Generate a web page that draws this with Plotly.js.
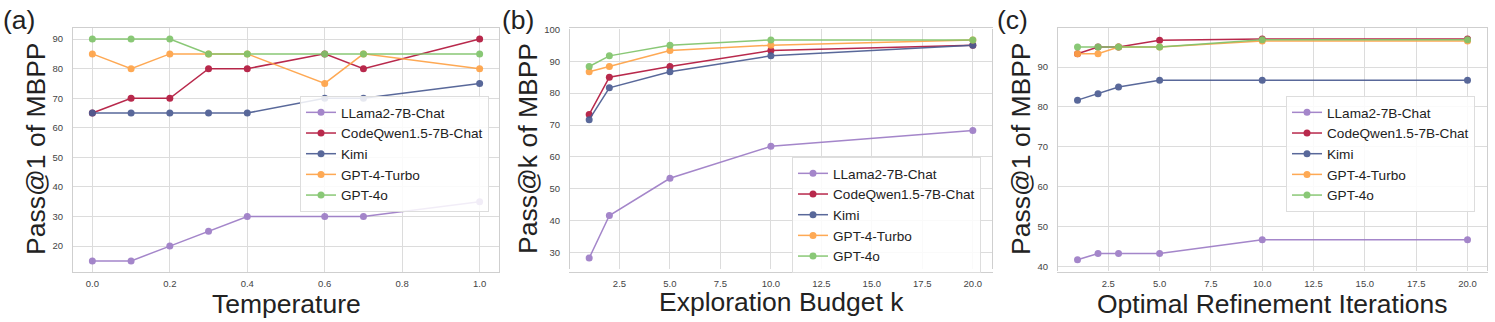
<!DOCTYPE html>
<html>
<head>
<meta charset="utf-8">
<script src="https://cdn.plot.ly/plotly-3.0.1.min.js"></script>
<style>
  body { margin: 0; padding: 0; background: #fff; }
  #chart { width: 1495px; height: 322px; }
</style>
</head>
<body>
<div id="chart"></div>
<script>
// model names and colours
var models = ['LLama2-7B-Chat', 'CodeQwen1.5-7B-Chat', 'Kimi', 'GPT-4-Turbo', 'GPT-4o'];
var colors = ['#9d7cc6', '#b3173d', '#4b5c92', '#fea246', '#80c46b'];

// (a) temperature
var temperature = [0.0, 0.1, 0.2, 0.3, 0.4, 0.6, 0.7, 1.0];
var tempLlama = [15, 15, 20, 25, 30, 30, 30, 35];
var tempCodeQwen = [65, 70, 70, 80, 80, 85, 80, 90];
var tempKimi = [65, 65, 65, 65, 65, 70, 70, 75];
var tempTurbo = [85, 80, 85, 85, 85, 75, 85, 80];
var temp4o = [90, 90, 90, 85, 85, 85, 85, 85];

// (b) exploration budget k
var budget = [1, 2, 5, 10, 20];
var budgetLlama = [28.33, 41.67, 53.33, 63.33, 68.33];
var budgetCodeQwen = [73.33, 85.0, 88.33, 93.33, 95.0];
var budgetKimi = [71.67, 81.67, 86.67, 91.67, 95.0];
var budgetTurbo = [86.67, 88.33, 93.33, 95.0, 96.67];
var budget4o = [88.33, 91.67, 95.0, 96.67, 96.67];

// (c) refinement iterations
var iters = [1, 2, 3, 5, 10, 20];
var iterLlama = [41.7, 43.3, 43.3, 43.3, 46.7, 46.7];
var iterCodeQwen = [93.3, 95.0, 95.0, 96.7, 97.0, 97.0];
var iterKimi = [81.7, 83.3, 85.0, 86.7, 86.7, 86.7];
var iterTurbo = [93.3, 93.3, 95.0, 95.0, 96.5, 96.5];
var iter4o = [95.0, 95.0, 95.0, 95.0, 96.8, 96.8];

var panels = [
    {x: temperature, ys: [tempLlama, tempCodeQwen, tempKimi, tempTurbo, temp4o], ax: '', legend: 'legend'},
    {x: budget, ys: [budgetLlama, budgetCodeQwen, budgetKimi, budgetTurbo, budget4o], ax: '2', legend: 'legend2'},
    {x: iters, ys: [iterLlama, iterCodeQwen, iterKimi, iterTurbo, iter4o], ax: '3', legend: 'legend3'}
];

var data = [];
panels.forEach(function (p) {
    for (var i = 0; i < models.length; i++) {
        data.push({
            x: p.x,
            y: p.ys[i],
            xaxis: 'x' + p.ax,
            yaxis: 'y' + p.ax,
            legend: p.legend,
            mode: 'lines+markers',
            name: models[i],
            opacity: 0.92,
            line: {color: colors[i], width: 1.5},
            marker: {color: colors[i], size: 7},
            hoverinfo: 'skip'
        });
    }
});

var W = 1495, H = 322;
function px(v) { return v / W; }
function py(v) { return 1 - v / H; }

function xax(dom, range, tick0, dtick, fmt) {
    return {
        domain: dom, range: range, tick0: tick0, dtick: dtick, tickformat: fmt,
        showgrid: true, gridcolor: '#dcdcdc', gridwidth: 1,
        showline: true, mirror: true, linecolor: '#cfcfcf', linewidth: 1,
        zeroline: false, ticks: '', ticklabelstandoff: 3,
        tickfont: {family: 'Liberation Sans, Arial', size: 9.5, color: '#444'}
    };
}
function yax(dom, range, anchor, tick0, dtick) {
    var a = xax(dom, range, tick0, dtick, 'd');
    a.anchor = anchor;
    a.ticklabelstandoff = 7;
    return a;
}

var bigFont = {family: 'Liberation Sans, Arial', size: 26.5, color: '#222'};
var legendFont = {family: 'Liberation Sans, Arial', size: 13.6, color: '#222'};

function leg(x, y) {
    return {
        x: x, y: y, xanchor: 'left', yanchor: 'top',
        bgcolor: 'rgba(255,255,255,0.85)', bordercolor: '#dddddd', borderwidth: 1,
        font: legendFont, itemwidth: 30, tracegroupgap: 0
    };
}

function note(text, x, y, xa, ya, angle) {
    return {
        text: text, xref: 'paper', yref: 'paper', x: x, y: y,
        xanchor: xa, yanchor: ya, showarrow: false, textangle: angle || 0,
        font: bigFont, borderpad: 0
    };
}

var layout = {
    width: W, height: H,
    margin: {l: 0, r: 0, t: 0, b: 0},
    paper_bgcolor: '#fff', plot_bgcolor: '#fff',
    showlegend: true,
    xaxis: xax([px(73), px(499)], [-0.05, 1.05], 0, 0.2, '.1f'),
    yaxis: yax([py(272), py(28)], [11.25, 93.75], 'x', 0, 10),
    xaxis2: xax([px(570), px(992)], [0.05, 20.95], 0, 2.5, '.1f'),
    yaxis2: yax([py(269), py(29)], [24.92, 100.08], 'x2', 0, 10),
    xaxis3: xax([px(1058), px(1487)], [0.05, 20.95], 0, 2.5, '.1f'),
    yaxis3: yax([py(271), py(28)], [38.9, 99.77], 'x3', 0, 10),
    legend: leg(px(300), py(96)),
    legend2: leg(px(792), py(157)),
    legend3: leg(px(1286), py(96)),
    annotations: [
        note('(a)', px(2), py(4), 'left', 'top'),
        note('(b)', px(501), py(4), 'left', 'top'),
        note('(c)', px(996), py(4), 'left', 'top'),
        note('Temperature', px(286), py(288), 'center', 'top'),
        note('Exploration Budget k', px(781), py(286), 'center', 'top'),
        note('Optimal Refinement Iterations', px(1272), py(288), 'center', 'top'),
        note('Pass@1 of MBPP', px(36), py(149), 'center', 'middle', -90),
        note('Pass@k of MBPP', px(528), py(149), 'center', 'middle', -90),
        note('Pass@1 of MBPP', px(1021), py(149), 'center', 'middle', -90)
    ]
};

Plotly.newPlot('chart', data, layout, {staticPlot: true, displayModeBar: false});
</script>
</body>
</html>
